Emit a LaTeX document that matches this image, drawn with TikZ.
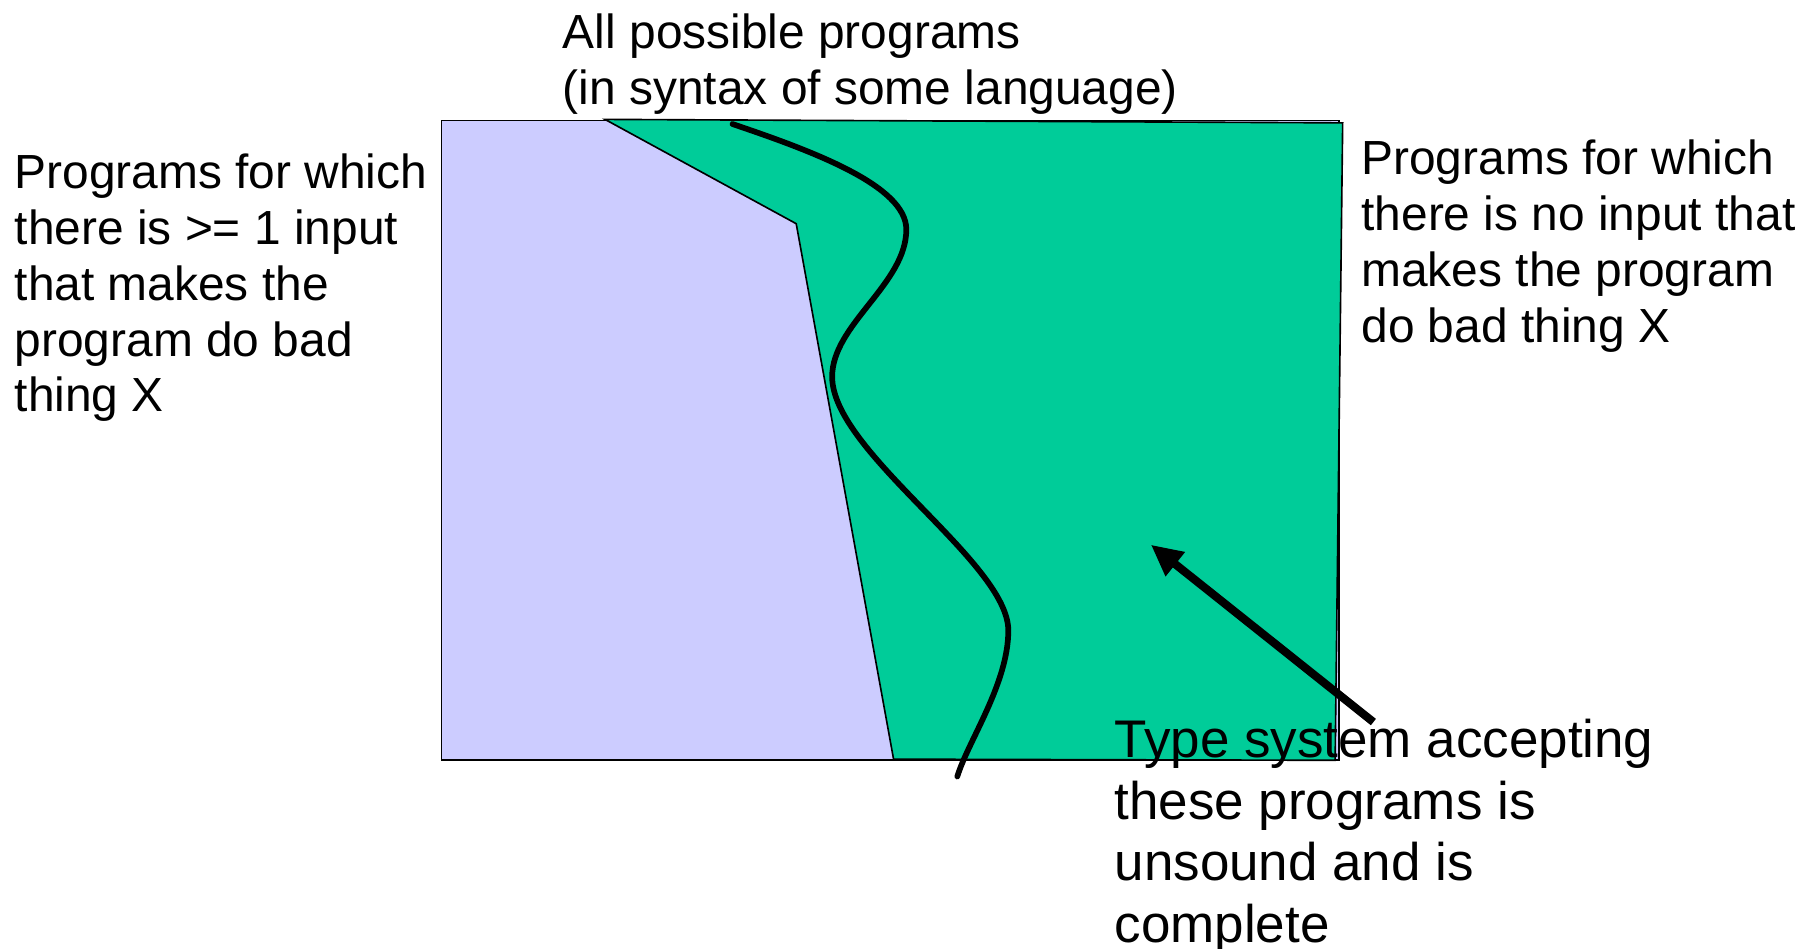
\documentclass[tikz,border=0pt]{standalone}
\usepackage{fontspec}
\setmainfont{Liberation Sans}
\usepackage{tikz}
\usetikzlibrary{arrows.meta}
\usetikzlibrary{positioning}
\definecolor{badset}{HTML}{CCCCFF}
\definecolor{goodset}{HTML}{00CC99}

\begin{document}
\begin{tikzpicture}[x=0.01cm, y=-0.01cm, % Unsound but complete type system
    blurb/.style={align=left, anchor=north west, inner sep=0pt, font=\fontsize{11.75}{13.7}\selectfont},
    bigblurb/.style={blurb, font=\fontsize{13}{15.1}\selectfont}]

      \useasboundingbox (0, 0) rectangle (1560, 818.8);
      \draw [fill=badset, thin] (381, 104) rectangle (1155.5, 656);
      \draw [fill=goodset, thin] (522, 103) -- (687, 193) -- (771, 655) -- (1152, 656) -- (1158.5, 106) -- cycle;
      \draw [line width=1.4pt, line cap=round] (632, 107) .. controls (700, 130) and (782, 160) .. (782, 198)
                                          .. controls (782, 245) and (718, 280) .. (718, 325)
                                          .. controls (718, 390) and (870, 485) .. (870, 544)
                                          .. controls (870, 590) and (835, 640) .. (826, 670);
      \coordinate (tail) at (1185, 623);
      \coordinate (tip) at (993, 470);
      \draw [line width=2pt, -{Triangle[length=0.27cm, width=0.25cm]}] (tail) -- (tip);
      \node [blurb] (all) at (485, 11) {All possible programs\\(in syntax of some language)};
      \node [blurb] (bad) at (12, 132) {Programs for which\\there is >= 1 input\\that makes the\\program do bad\\thing X};
      \node [blurb] (good) at (1174, 120) {Programs for which\\there is no input that\\makes the program\\do bad thing X};
      \node [bigblurb] (types) at (961, 620) {Type system accepting\\these programs is\\unsound and is\\complete};

    \end{tikzpicture}
\end{document}
